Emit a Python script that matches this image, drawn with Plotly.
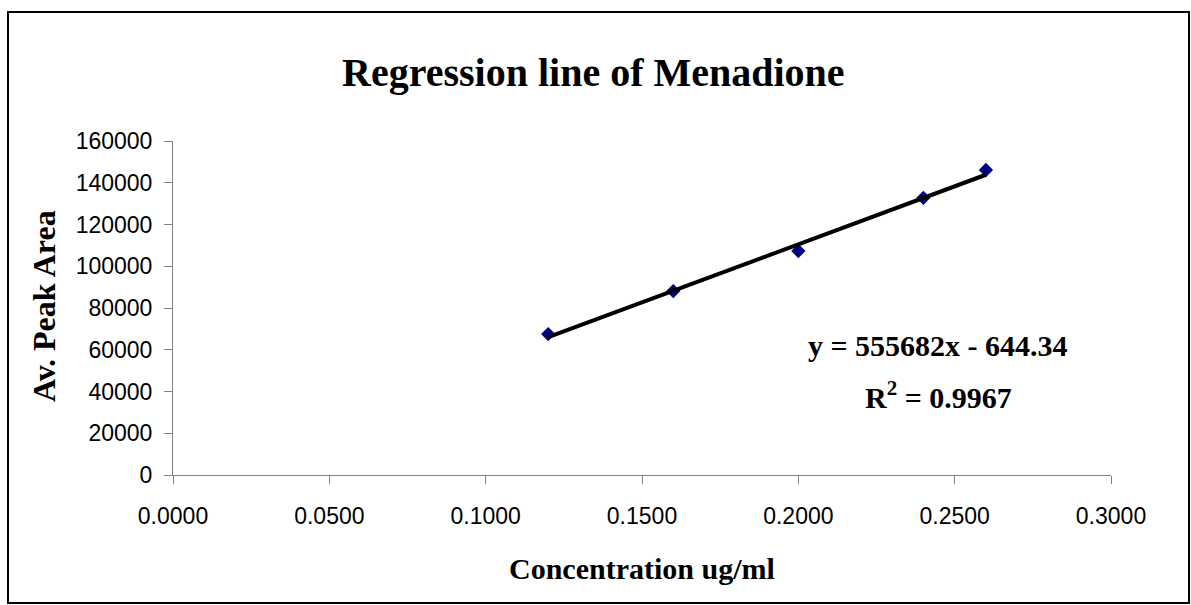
import plotly.graph_objects as go

# Data
conc = [0.12, 0.16, 0.20, 0.24, 0.26]
peak_area = [67500, 88100, 107300, 132800, 146100]
trend_x = [0.12, 0.26]
trend_y = [66037, 143833]
x_ticks = [0.0, 0.05, 0.10, 0.15, 0.20, 0.25, 0.30]
y_ticks = [0, 20000, 40000, 60000, 80000, 100000, 120000, 140000, 160000]
title_text = "Regression line of Menadione"
eq_text = "y = 555682x - 644.34"
r2_text = "R<sup>2</sup> = 0.9967"

W, H = 1191, 605
L, R, T, B = 173, 80, 141, 130
pw, ph = W - L - R, H - T - B

def px(x):
    return (x - L) / pw

def py(y):
    return (H - B - y) / ph

serif = "Liberation Serif, Times New Roman, serif"
sans = "Liberation Sans, Arial, sans-serif"

fig = go.Figure()
fig.add_trace(go.Scatter(
    x=conc, y=peak_area, mode="markers",
    marker=dict(symbol="diamond", size=11, color="#000080"),
    showlegend=False, cliponaxis=False, hoverinfo="skip"))
fig.add_trace(go.Scatter(
    x=trend_x, y=trend_y, mode="lines",
    line=dict(color="black", width=4),
    showlegend=False, cliponaxis=False, hoverinfo="skip"))

fig.update_layout(
    width=W, height=H,
    margin=dict(l=L, r=R, t=T, b=B, autoexpand=False),
    paper_bgcolor="white", plot_bgcolor="white",
    showlegend=False, hovermode=False,
    xaxis=dict(range=[0, 0.3], tickvals=x_ticks,
               ticktext=[f"{v:.4f}" for v in x_ticks],
               showgrid=False, zeroline=False,
               showline=True, linecolor="#808080", linewidth=1,
               ticks="outside", ticklen=8, tickcolor="#808080",
               ticklabelstandoff=12,
               tickfont=dict(family=sans, size=23, color="black")),
    yaxis=dict(range=[0, 160000], tickvals=y_ticks,
               ticktext=[str(v) for v in y_ticks],
               showgrid=False, zeroline=False,
               showline=True, linecolor="#808080", linewidth=1,
               ticks="outside", ticklen=8, tickcolor="#808080",
               ticklabelstandoff=7,
               tickfont=dict(family=sans, size=23, color="black")),
)

annos = [
    dict(text=f"<b>{title_text}</b>", x=px(593), y=py(73),
         font=dict(family=serif, size=40, color="black")),
    dict(text="<b>Concentration ug/ml</b>", x=px(642), y=py(568),
         font=dict(family=serif, size=30, color="black")),
    dict(text="<b>Av. Peak Area</b>", x=px(44), y=py(306), textangle=-90,
         font=dict(family=serif, size=32, color="black")),
    dict(text=f"<b>{eq_text}</b>", x=px(938), y=py(345),
         font=dict(family=serif, size=30, color="black")),
    dict(text=f"<b>{r2_text}</b>", x=px(938), y=py(395),
         font=dict(family=serif, size=30, color="black")),
]
for a in annos:
    fig.add_annotation(xref="paper", yref="paper", showarrow=False,
                       xanchor="center", yanchor="middle", **a)

fig.add_shape(type="rect", xref="paper", yref="paper",
              x0=px(8), x1=px(1189), y0=py(12), y1=py(603),
              line=dict(color="black", width=2), layer="above")

fig.write_html("out.html",
               config={"displayModeBar": False, "staticPlot": True},
               post_script="document.body.style.margin='0';"
                           "document.body.style.overflow='hidden';")
